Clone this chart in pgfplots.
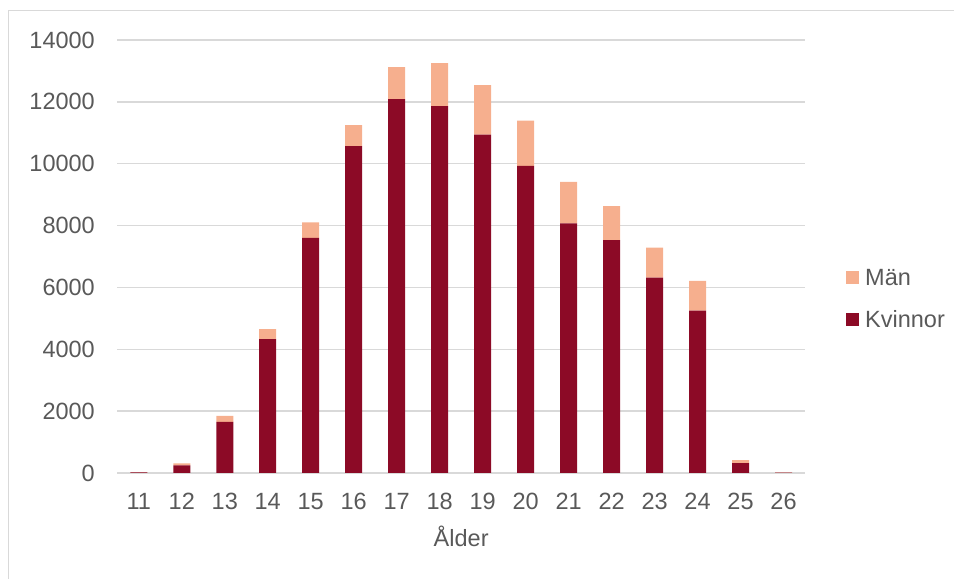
\documentclass[border=0pt]{standalone}
\usepackage{pgfplots}
\pgfplotsset{compat=1.18}
\usepackage{pgfplotstable}
\usepackage{fontspec}
\setmainfont{Liberation Sans}

\definecolor{kvinnor}{HTML}{8C0A26}
\definecolor{man}{HTML}{F6AF8E}
\definecolor{gridgray}{HTML}{D9D9D9}
\definecolor{txt}{HTML}{595959}

% Antal per ålder
\pgfplotstableread{
alder kvinnor man
11    20     10
12    250    60
13    1650   200
14    4330   320
15    7600   500
16    10570  680
17    12090  1030
18    11860  1390
19    10940  1600
20    9930   1460
21    8070   1340
22    7530   1100
23    6320   970
24    5250   960
25    320    100
26    15     5
}\data

\begin{document}
\begin{tikzpicture}[x=1bp,y=1bp]
\useasboundingbox (0,0) rectangle (954,579);
\draw[gridgray, line width=1.5bp] (8.5,-5) -- (8.5,568.5) -- (960,568.5);
\begin{axis}[
  at={(117.3bp,106bp)}, anchor=south west,
  scale only axis, width=687.7bp, height=433bp,
  ybar stacked, bar width=17bp,
  xmin=10.5, xmax=26.5, ymin=0, ymax=14000,
  xtick={11,...,26}, ytick={0,2000,...,14000},
  scaled y ticks=false,
  axis line style={draw=none},
  major tick length=0pt,
  ymajorgrids, grid style={gridgray, line width=1.5bp},
  /pgf/number format/assume math mode=true,
  /pgf/number format/fixed,
  /pgf/number format/set thousands separator={},
  tick label style={font=\fontsize{23.5bp}{28bp}\selectfont, text=txt, inner sep=0pt},
  yticklabel style={anchor=east, xshift=-22.3bp},
  xticklabel style={anchor=base, yshift=-37bp},
  xlabel={Ålder},
  xlabel style={at={(axis description cs:0.5,0)}, anchor=base, yshift=-74bp,
    font=\fontsize{23.5bp}{28bp}\selectfont, text=txt, inner sep=0pt},
  legend image code/.code={\fill[#1] (0bp,-6.5bp) rectangle (13bp,6.5bp);},
  reverse legend,
  legend cell align=left,
  legend style={at={(rel axis cs:1.0596,0.402)}, anchor=west, draw=none, fill=none,
    inner sep=0pt, row sep=26bp,
    font=\fontsize{23.5bp}{28bp}\selectfont, text=txt,
    nodes={inner sep=0pt, text height=16bp, text depth=0bp},
    /tikz/every odd column/.style={column sep=6bp}},
]
\addplot[fill=kvinnor, draw=none] table[x=alder, y=kvinnor] {\data};
\addplot[fill=man, draw=none] table[x=alder, y=man] {\data};
\legend{Kvinnor, Män}
\end{axis}
\end{tikzpicture}
\end{document}
